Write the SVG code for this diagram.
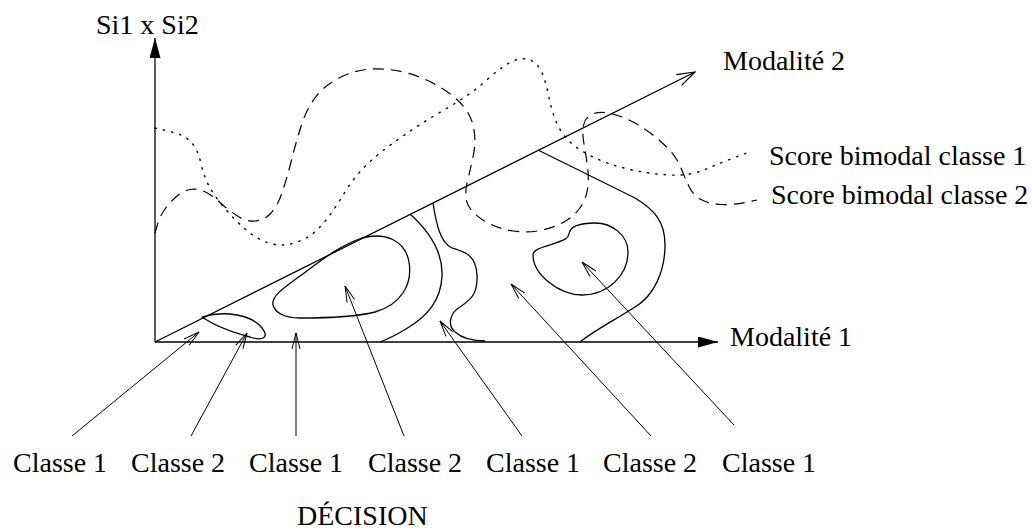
<svg xmlns="http://www.w3.org/2000/svg" width="1032" height="531" viewBox="0 0 1032 531">
<style>
text{font-family:"Liberation Serif","Times New Roman",serif;font-size:28px;fill:#000}
.ax{stroke:#000;stroke-width:1.3;fill:none}
.ct{stroke:#000;stroke-width:1.3;fill:none;stroke-linejoin:round}
.ptr{stroke:#000;stroke-width:1;fill:none}
.dot{stroke:#000;stroke-width:1.4;fill:none;stroke-dasharray:1.4 7;stroke-linecap:round}
.dash{stroke:#000;stroke-width:1.2;fill:none;stroke-dasharray:11 7}
</style>
<defs>
<marker id="filled" viewBox="0 0 20 11" refX="20" refY="5.5" markerWidth="20" markerHeight="11" markerUnits="userSpaceOnUse" orient="auto">
<path d="M0,0 L20,5.5 L0,11 Z" fill="#000"/>
</marker>
<marker id="openL" viewBox="-1 -1 20 14" refX="18" refY="6" markerWidth="20" markerHeight="14" markerUnits="userSpaceOnUse" orient="auto">
<path d="M0,0 L18,6 L0,12" fill="none" stroke="#000" stroke-width="1.2"/>
</marker>
<marker id="openS" viewBox="-1 -1 18 10" refX="16" refY="4" markerWidth="18" markerHeight="10" markerUnits="userSpaceOnUse" orient="auto">
<path d="M0,0 L16,4 L0,8" fill="none" stroke="#000" stroke-width="1"/>
</marker>
</defs>
<rect width="1032" height="531" fill="#fff"/>

<g id="axes">
<line class="ax" x1="155" y1="342" x2="155" y2="38" marker-end="url(#filled)"/>
<line class="ax" x1="155" y1="342" x2="718" y2="342" marker-end="url(#filled)"/>
<line class="ax" x1="155" y1="342" x2="695" y2="72" marker-end="url(#openL)"/>
</g>

<g id="score-classe-1">
<path class="dot" d="M155,128 L170,131.5 Q185,135 191.5,142.5 Q198,150 201,163.5 Q204,177 209.5,187 Q215,197 225,208.5 Q235,220 245,229 Q255,238 267.5,242.5 Q280,247 292.5,243.5 Q305,240 313.5,233 Q322,226 329.5,215.5 Q337,205 346,190.5 Q355,176 367.5,164 Q380,152 401.5,137 Q423,122 446.5,108.5 Q470,95 485,81.5 Q500,68 510,62.5 Q520,57 528.5,59.5 Q537,62 541.5,72 Q546,82 548.5,95 Q551,108 555.5,120 Q560,132 569,141 Q578,150 594,157.5 Q610,165 630,169.5 Q650,174 670,175 Q690,176 705,169.5 Q720,163 736,157 L752,151"/>
</g>

<g id="score-classe-2">
<path class="dash" d="M155,233 L157.5,224.5 Q160,216 165,209 Q170,202 176.5,196.5 Q183,191 190,189.5 Q197,188 204.5,191.5 Q212,195 220,202.5 Q228,210 237.5,216 Q247,222 256,221 Q265,220 271.5,212.5 Q278,205 282.5,191.5 Q287,178 291.5,160 Q296,142 301.5,125 Q307,108 316,96.5 Q325,85 340,77.5 Q355,70 371,69 Q387,68 405,72.5 Q423,77 439,86.5 Q455,96 463.5,106.5 Q472,117 474,129.5 Q476,142 473.5,154.5 Q471,167 468,178.5 Q465,190 466,198 Q467,206 473.5,212.5 Q480,219 490,224 Q500,229 513.5,231 Q527,233 540,230.5 Q553,228 563,222.5 Q573,217 579.5,208.5 Q586,200 587.5,189 Q589,178 587.5,166.5 Q586,155 584,144 Q582,133 583.5,125.5 Q585,118 590.5,115 Q596,112 604,112.5 Q612,113 623.5,117.5 Q635,122 647.5,131 Q660,140 668.5,149 Q677,158 681,168 Q685,178 689,186.5 Q693,195 701,199.5 Q709,204 721,204.5 Q733,205 745,202.5 L757,200"/>
</g>

<g id="decision-regions">
<path class="ct" d="M202,317 C225,310 252,315 262,328 C270,338 262,341 250,337 C235,333 215,326 202,317 Z"/>
<path class="ct" d="M273,305 C271,296 285,287 300,276 C318,263 338,246 362,238 C385,232 405,240 409,262 C413,285 400,305 375,312 C355,317 320,318 300,318 C285,318 275,313 273,305 Z"/>
<path class="ct" d="M410,214 C430,232 443,252 442,276 C441,300 428,316 406,329 C396,335 388,339 380,342"/>
<path class="ct" d="M433,203 C436,222 440,243 452,248 C465,252 476,255 477,275 C478,295 470,300 460,307 C450,313 447,325 455,332 C463,339 475,341 485,341"/>
<path class="ct" d="M538,150 L635,198 C655,210 665,222 665,245 C665,270 655,295 635,307 C615,320 595,330 580,342"/>
<path class="ct" d="M533,255 C533,275 560,295 582,295 C608,295 628,275 628,252 C628,235 612,223 595,223 C580,223 570,226 569,234 C568,240 560,241 550,245 C540,248 533,250 533,255 Z"/>
</g>

<g id="connectors">
<line class="ptr" x1="72" y1="436" x2="199" y2="332" marker-end="url(#openS)"/>
<line class="ptr" x1="191" y1="436" x2="247" y2="333" marker-end="url(#openS)"/>
<line class="ptr" x1="296" y1="436" x2="296" y2="333" marker-end="url(#openS)"/>
<line class="ptr" x1="404" y1="436" x2="345" y2="286" marker-end="url(#openS)"/>
<line class="ptr" x1="522" y1="436" x2="440" y2="321" marker-end="url(#openS)"/>
<line class="ptr" x1="651" y1="436" x2="511" y2="284" marker-end="url(#openS)"/>
<line class="ptr" x1="734" y1="425" x2="582" y2="262" marker-end="url(#openS)"/>
</g>

<g id="label-si1si2"><text x="96" y="34">Si1 x Si2</text></g>
<g id="label-modalite2"><text x="723" y="70">Modalité 2</text></g>
<g id="label-modalite1"><text x="730" y="346">Modalité 1</text></g>
<g id="label-score1"><text x="769" y="165">Score bimodal classe 1</text></g>
<g id="label-score2"><text x="771" y="204">Score bimodal classe 2</text></g>
<g id="label-c1"><text x="13" y="472">Classe 1</text></g>
<g id="label-c2"><text x="131" y="472">Classe 2</text></g>
<g id="label-c3"><text x="249" y="472">Classe 1</text></g>
<g id="label-c4"><text x="368" y="472">Classe 2</text></g>
<g id="label-c5"><text x="486" y="472">Classe 1</text></g>
<g id="label-c6"><text x="603" y="472">Classe 2</text></g>
<g id="label-c7"><text x="722" y="472">Classe 1</text></g>
<g id="label-decision"><text x="297" y="525">DÉCISION</text></g>
</svg>
